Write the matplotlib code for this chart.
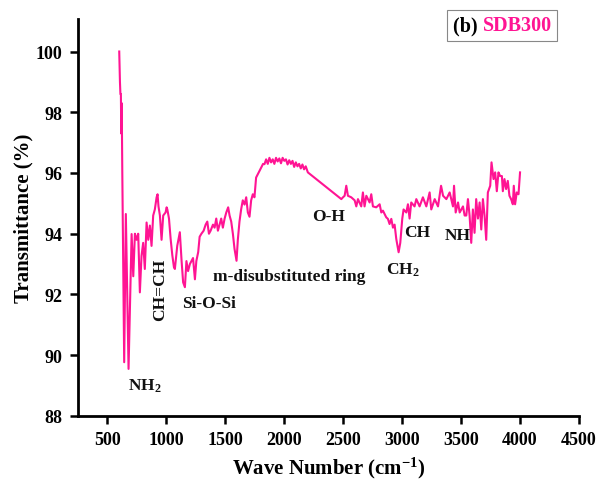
import matplotlib
matplotlib.use("Agg")
import matplotlib.pyplot as plt
from matplotlib.offsetbox import AnchoredOffsetbox, HPacker, TextArea

plt.rcParams["font.family"] = ["Liberation Serif", "DejaVu Serif"]
plt.rcParams["font.weight"] = "bold"
plt.rcParams["mathtext.fontset"] = "custom"
plt.rcParams["mathtext.rm"] = "Liberation Serif:bold"
plt.rcParams["mathtext.bf"] = "Liberation Serif:bold"
plt.rcParams["mathtext.default"] = "rm"

PINK = "#FF1493"

# FTIR spectrum
wave_number = [
    600, 606, 610, 614, 617, 621, 626, 642, 656, 679, 705, 719, 733, 747, 761,
    775, 789, 803, 817, 832, 846, 860, 874, 888, 902, 917, 925, 933, 945, 959,
    973, 993, 1002, 1008, 1022, 1036, 1050, 1064, 1072, 1092, 1114, 1129,
    1142, 1157, 1170, 1184, 1199, 1212, 1226, 1242, 1254, 1270, 1282, 1297,
    1316, 1333, 1347, 1361, 1375, 1395, 1409, 1423, 1437, 1451, 1465, 1479,
    1494, 1508, 1524, 1536, 1550, 1564, 1578, 1595, 1606, 1620, 1634, 1648,
    1663, 1677, 1691, 1705, 1719, 1733, 1747, 1761, 1776, 1790, 1804, 1820,
    1832, 1846, 1860, 1874, 1888, 1902, 1916, 1930, 1944, 1958, 1972, 1986,
    2000, 2014, 2028, 2042, 2056, 2070, 2084, 2098, 2112, 2126, 2140, 2154,
    2168, 2182, 2200, 2484, 2498, 2512, 2526, 2540, 2568, 2597, 2611, 2625,
    2653, 2667, 2681, 2696, 2724, 2738, 2752, 2780, 2809, 2823, 2837, 2865,
    2879, 2893, 2908, 2922, 2936, 2950, 2970, 2984, 3001, 3012, 3035, 3049,
    3063, 3077, 3105, 3120, 3148, 3176, 3205, 3233, 3247, 3276, 3304, 3330,
    3347, 3375, 3403, 3431, 3440, 3454, 3474, 3488, 3516, 3530, 3544, 3558,
    3572, 3586, 3600, 3614, 3628, 3643, 3657, 3671, 3685, 3699, 3713, 3727,
    3747, 3758, 3775, 3789, 3803, 3817, 3831, 3846, 3854, 3868, 3882, 3896,
    3910, 3924, 3939, 3947, 3958, 3972, 3987, 4000,
]
transmittance = [
    100.0, 99.0, 98.6, 98.6, 97.3, 98.3, 96.0, 89.77, 94.65, 89.55, 93.99, 92.6,
    94.0, 93.8, 94.0, 92.07, 93.27, 93.7, 92.84, 94.37, 93.8, 94.27, 93.6, 94.6,
    94.8, 95.2, 95.3, 94.9, 94.6, 93.8, 94.6, 94.7, 94.87, 94.8, 94.5, 93.83,
    93.3, 92.9, 92.84, 93.6, 94.05, 93.1, 92.4, 92.24, 93.1, 92.77, 93.0, 93.1,
    93.2, 92.5, 93.1, 93.4, 93.9, 94.0, 94.1, 94.3, 94.4, 94.0, 94.1, 94.3,
    94.2, 94.5, 94.1, 94.3, 94.5, 94.2, 94.5, 94.7, 94.87, 94.6, 94.4, 94.0,
    93.5, 93.11, 93.8, 94.4, 94.8, 95.1, 94.96, 95.2, 94.7, 94.56, 95.1, 95.3,
    95.2, 95.85, 95.96, 96.07, 96.18, 96.3, 96.29, 96.45, 96.3, 96.5, 96.35,
    96.45, 96.3, 96.5, 96.38, 96.48, 96.32, 96.5, 96.4, 96.45, 96.28, 96.42,
    96.3, 96.4, 96.2, 96.35, 96.22, 96.3, 96.15, 96.28, 96.12, 96.22, 96.02,
    95.14, 95.2, 95.25, 95.58, 95.25, 95.2, 95.1, 94.9, 95.14, 94.9, 95.36,
    94.9, 95.25, 95.03, 95.3, 94.9, 94.87, 94.97, 94.7, 94.76, 94.54, 94.49,
    94.32, 94.49, 94.2, 94.3, 93.83, 93.39, 93.7, 94.5, 94.8, 94.7, 94.97,
    94.5, 95.03, 94.9, 95.14, 94.9, 95.2, 94.9, 95.36, 94.8, 95.14, 94.9,
    95.58, 95.25, 95.14, 95.36, 94.9, 95.58, 94.7, 95.03, 94.7, 94.9, 94.6,
    94.6, 95.14, 94.6, 93.7, 94.8, 94.03, 95.14, 94.5, 95.03, 94.14, 95.14,
    94.6, 93.8, 95.36, 95.58, 96.35, 95.8, 96.02, 95.4, 96.02, 95.9, 95.9,
    95.4, 95.8, 95.47, 95.74, 95.25, 95.14, 94.97, 95.58, 94.97, 95.36, 95.3,
    96.02,
]

# band assignments: label, x, y, rotation
band_labels = ["NH$_2$", "CH=CH", "Si-O-Si", "m-disubstituted ring", "O-H",
               "CH$_2$", "CH", "NH"]
band_x = [674, 945, 1360, 2038, 2377, 3004, 3131, 3470]
band_y = [89.02, 92.18, 91.72, 92.61, 94.58, 92.84, 94.06, 93.96]
band_rot = [0, 90, 0, 0, 0, 0, 0, 0]
band_ha = ["left", "center", "center", "center", "center", "center", "center", "center"]

x_ticks = [500, 1000, 1500, 2000, 2500, 3000, 3500, 4000, 4500]
y_ticks = [88, 90, 92, 94, 96, 98, 100]

fig = plt.figure(figsize=(5.98, 4.81), dpi=100)
ax = fig.add_axes([0.1304, 0.1331, 0.8378, 0.8253])

ax.plot(wave_number, transmittance, color=PINK, lw=1.5)

for lab, x, y, r, ha in zip(band_labels, band_x, band_y, band_rot, band_ha):
    ax.text(x, y, lab, rotation=r, ha=ha, va="center", fontsize=12.5,
            fontweight="bold", color="#111111")

ax.set_xlim(250, 4500)
ax.set_ylim(88, 101.07)
ax.set_xticks(x_ticks)
ax.set_yticks(y_ticks)
ax.set_xlabel("Wave Number (cm$^{-1}$)", fontsize=15, fontweight="bold", labelpad=5)
ax.set_ylabel("Transmittance (%)", fontsize=15, fontweight="bold", labelpad=2)

for side in ("top", "right"):
    ax.spines[side].set_visible(False)
for side in ("left", "bottom"):
    ax.spines[side].set_linewidth(2)
ax.tick_params(axis="both", which="major", direction="out", length=6, width=1.8,
               labelsize=13, pad=5)
for lbl in ax.get_xticklabels() + ax.get_yticklabels():
    lbl.set_fontweight("bold")

box = HPacker(children=[
    TextArea("(b) ", textprops=dict(color="black", fontsize=14.5, fontweight="bold")),
    TextArea("SDB300", textprops=dict(color=PINK, fontsize=14.5, fontweight="bold")),
], align="baseline", pad=0, sep=0)
anchored = AnchoredOffsetbox(loc="center", child=box, pad=0.4, borderpad=0,
                             frameon=True, bbox_to_anchor=(0.840, 0.945),
                             bbox_transform=fig.transFigure)
anchored.patch.set_edgecolor("#888888")
anchored.patch.set_linewidth(0.8)
fig.add_artist(anchored)

fig.savefig("out.png", dpi=100)
